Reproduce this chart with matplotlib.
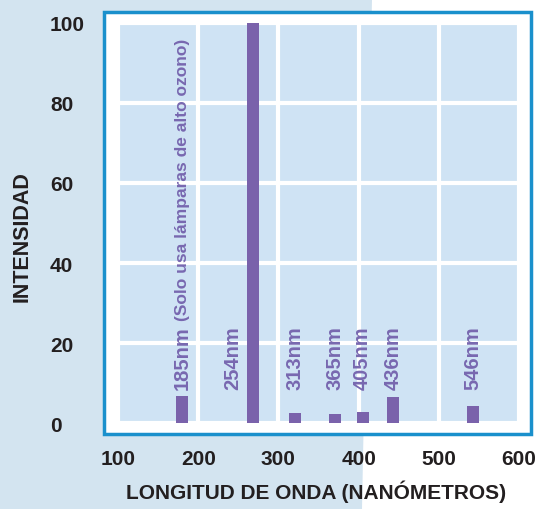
import matplotlib
matplotlib.use("Agg")
import matplotlib.pyplot as plt
from matplotlib.patches import Rectangle, Polygon

# spectral lines of the lamp (positions as drawn in the chart)
line_names = ["185nm (Solo usa lámparas de alto ozono)", "254nm", "313nm",
              "365nm", "405nm", "436nm", "546nm"]
line_pos = [180, 268, 321, 371, 405, 443, 543]
intensity = [6.7, 100, 2.5, 2.3, 2.8, 6.5, 4.3]
label_shift = {1: -25}  # the 254nm label sits left of its bar

xticks = [100, 200, 300, 400, 500, 600]
yticks = [0, 20, 40, 60, 80, 100]

W, H = 537, 510
dark = "#231f20"
purple = "#7a62ab"
label_purple = "#7868b0"

plt.rcParams["font.family"] = ["Liberation Sans", "DejaVu Sans"]
fig = plt.figure(figsize=(W / 100, H / 100), dpi=100)
fig.patch.set_facecolor("white")

# light blue backdrop on the left part of the picture
bg = Polygon([(0, 0), (362 / W, 0), (372 / W, 1), (0, 1)], closed=True,
             transform=fig.transFigure, facecolor="#d3e4f0", edgecolor="none",
             zorder=-3)
fig.patches.append(bg)

# white box with blue border around the plot
box = Rectangle((104 / W, 1 - 435 / H), 427 / W, 422 / H,
                transform=fig.transFigure, facecolor="white",
                edgecolor="#1a90cc", linewidth=2.5, zorder=-2)
fig.patches.append(box)

ax = fig.add_axes([118 / W, 1 - 424 / H, 401 / W, 400 / H])
ax.set_facecolor("#cfe3f4")
ax.set_xlim(100, 600)
ax.set_ylim(0, 100)
for s in ax.spines.values():
    s.set_visible(False)

ax.set_xticks(xticks)
ax.set_yticks(yticks)
ax.grid(True, color="white", linewidth=3)
ax.set_axisbelow(True)
ax.tick_params(length=0, labelsize=15, labelcolor=dark)
ax.tick_params(axis="x", pad=19)
ax.tick_params(axis="y", pad=49)
for lbl in ax.get_xticklabels() + ax.get_yticklabels():
    lbl.set_fontweight("bold")
for lbl in ax.get_yticklabels():
    lbl.set_ha("left")

ax.bar(line_pos, intensity, width=15, color=purple, zorder=3)

for i, (name, x) in enumerate(zip(line_names, line_pos)):
    head, _, tail = name.partition(" ")
    t = ax.text(x + label_shift.get(i, 0), 8.5, head, rotation=90,
                ha="center", va="bottom", color=label_purple, fontsize=14.5,
                fontweight="bold", zorder=4)
    if tail:
        # the note after the wavelength is set a bit tighter
        ax.annotate(tail, xy=(0.5, 1), xycoords=t, xytext=(0, 4),
                    textcoords="offset points", rotation=90,
                    ha="center", va="bottom", color=label_purple,
                    fontsize=12.5, fontweight="bold", zorder=4)

ax.set_xlabel("LONGITUD DE ONDA (NANÓMETROS)", fontsize=15,
              fontweight="bold", color=dark, va="center")
ax.xaxis.set_label_coords(0.494, -0.17)
ax.set_ylabel("INTENSIDAD", fontsize=15.5, fontweight="bold", color=dark,
              va="center")
ax.yaxis.set_label_coords(-0.239, 0.4675)

fig.savefig("out.png", dpi=100)
